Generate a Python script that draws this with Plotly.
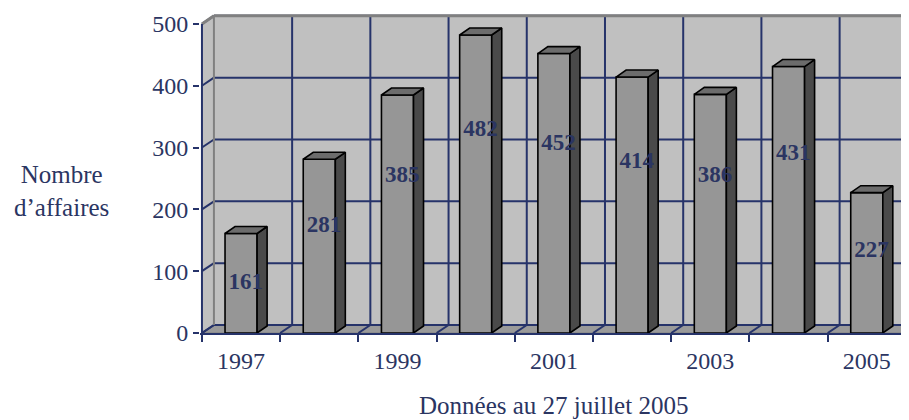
import plotly.graph_objects as go

# ---- data ----
years = ["1997", "1998", "1999", "2000", "2001", "2002", "2003", "2004", "2005"]
counts = [161, 281, 385, 482, 452, 414, 386, 431, 227]
y_ticks = [0, 100, 200, 300, 400, 500]
x_title = "Données au 27 juillet 2005"
y_title = "Nombre<br>d’affaires"

# ---- style ----
NAVY = "#26336A"
TEXT = "#2B3562"
WALL = "#C0C0C0"
EDGE = "#808080"
FLOOR = "#9A9A9A"
FRONT = "#969696"
SIDE = "#4A4A4A"
TOP = "#6C6C6C"
FONT = "Times New Roman, Liberation Serif, serif"

DXW, DYW = 0.153, 13.0   # wall depth (category units, value units)
DXB, DYB = 0.128, 11.3   # bar depth
BW = 0.41                # bar width
XMIN, XMAX = -0.025, 9.04
YMAX_AX = 516
YTOP = y_ticks[-1]
n = len(years)

fig = go.Figure()
shapes = []

# back wall
shapes.append(dict(type="rect", xref="x", yref="y", x0=DXW, x1=XMAX + 1, y0=DYW, y1=YTOP + DYW,
                   fillcolor=WALL, line=dict(width=0), layer="below"))
# side wall
shapes.append(dict(type="path", xref="x", yref="y",
                   path=f"M0,0 L{DXW},{DYW} L{DXW},{YTOP + DYW} L0,{YTOP} Z",
                   fillcolor=WALL, line=dict(width=0), layer="below"))
# floor
shapes.append(dict(type="path", xref="x", yref="y",
                   path=f"M0,0 L{XMAX + 1},0 L{XMAX + 1 + DXW},{DYW} L{DXW},{DYW} Z",
                   fillcolor=FLOOR, line=dict(color=EDGE, width=1), layer="below"))
# back wall gridlines
for v in y_ticks:
    shapes.append(dict(type="line", xref="x", yref="y", x0=DXW, x1=XMAX + 1, y0=v + DYW, y1=v + DYW,
                       line=dict(color=NAVY, width=2), layer="below"))
    shapes.append(dict(type="line", xref="x", yref="y", x0=0, x1=DXW, y0=v, y1=v + DYW,
                       line=dict(color=NAVY, width=2), layer="below"))
for i in range(1, n + 1):
    shapes.append(dict(type="line", xref="x", yref="y", x0=i + DXW, x1=i + DXW, y0=DYW, y1=YTOP + DYW,
                       line=dict(color=NAVY, width=2), layer="below"))
for i in range(0, n + 1):
    shapes.append(dict(type="line", xref="x", yref="y", x0=i, x1=i + DXW, y0=0, y1=DYW,
                       line=dict(color=NAVY, width=2), layer="below"))
# wall edges
shapes.append(dict(type="line", xref="x", yref="y", x0=DXW, x1=DXW, y0=DYW, y1=YTOP + DYW,
                   line=dict(color=EDGE, width=2), layer="below"))
shapes.append(dict(type="line", xref="x", yref="y", x0=0, x1=DXW, y0=YTOP, y1=YTOP + DYW,
                   line=dict(color=EDGE, width=3), layer="below"))
shapes.append(dict(type="line", xref="x", yref="y", x0=DXW, x1=XMAX + 1, y0=YTOP + DYW, y1=YTOP + DYW,
                   line=dict(color=EDGE, width=3), layer="below"))
# front y-axis line (only up to 500)
shapes.append(dict(type="line", xref="x", yref="y", x0=0, x1=0, y0=0, y1=YTOP,
                   line=dict(color=NAVY, width=2), layer="above"))

xc = [i + 0.5 for i in range(n)]

# front faces
fig.add_trace(go.Bar(x=xc, y=counts, width=BW, marker=dict(color=FRONT, line=dict(color="black", width=1.6)),
                     hoverinfo="skip", showlegend=False))

# side and top faces
for x, v in zip(xc, counts):
    x0, x1 = x - BW / 2, x + BW / 2
    fig.add_trace(go.Scatter(x=[x1, x1 + DXB, x1 + DXB, x1, x1], y=[0, DYB, v + DYB, v, 0],
                             mode="lines", fill="toself", fillcolor=SIDE,
                             line=dict(color="black", width=1.6), hoverinfo="skip", showlegend=False))
    fig.add_trace(go.Scatter(x=[x0, x1, x1 + DXB, x0 + DXB, x0], y=[v, v, v + DYB, v + DYB, v],
                             mode="lines", fill="toself", fillcolor=TOP,
                             line=dict(color="black", width=1.6), hoverinfo="skip", showlegend=False))

# value labels (placed inside the bars, as in the 3D projection of the original)
fig.add_trace(go.Scatter(x=[x + 0.06 for x in xc], y=[v * 0.77 - 43 for v in counts], mode="text",
                         text=[str(v) for v in counts],
                         textfont=dict(family=FONT, size=23, color=TEXT, weight="bold"),
                         hoverinfo="skip", showlegend=False, cliponaxis=False))

# the page body adds an 8px margin: the figure is sized to fit the 909x420 window
fig.update_layout(
    width=901, height=412,
    margin=dict(l=192, r=0, t=6, b=87),
    paper_bgcolor="white", plot_bgcolor="white",
    shapes=shapes,
    font=dict(family=FONT, color=TEXT),
    xaxis=dict(range=[XMIN, XMAX], tickvals=list(range(n + 1)), ticktext=[""] * (n + 1),
               ticks="outside", ticklen=7, tickwidth=2, tickcolor=NAVY,
               showline=True, linecolor=NAVY, linewidth=2, showgrid=False, zeroline=False, fixedrange=True),
    xaxis2=dict(range=[XMIN, XMAX], overlaying="x", anchor="y", side="bottom",
                tickvals=xc[::2], ticktext=years[::2],
                ticks="outside", ticklen=6, tickcolor="rgba(0,0,0,0)",
                tickfont=dict(family=FONT, size=24, color=TEXT),
                showline=False, showgrid=False, zeroline=False, fixedrange=True),
    yaxis=dict(range=[0, YMAX_AX], tickvals=y_ticks, ticks="outside", ticklen=6, tickwidth=2, tickcolor=NAVY,
               tickfont=dict(family=FONT, size=24, color=TEXT),
               showline=False, showgrid=False, zeroline=False, fixedrange=True),
    annotations=[
        dict(text=y_title, xref="paper", yref="paper", x=-0.195, y=0.445, showarrow=False,
             xanchor="center", yanchor="middle", font=dict(family=FONT, size=25, color=TEXT)),
        dict(text=x_title, xref="paper", yref="paper", x=0.498, y=-0.228, showarrow=False,
             xanchor="center", yanchor="middle", font=dict(family=FONT, size=25, color=TEXT)),
    ],
)
# invisible trace to activate xaxis2
fig.add_trace(go.Scatter(x=[xc[0]], y=[0], xaxis="x2", mode="markers", marker=dict(opacity=0),
                         hoverinfo="skip", showlegend=False))

fig.write_html("out.html")
